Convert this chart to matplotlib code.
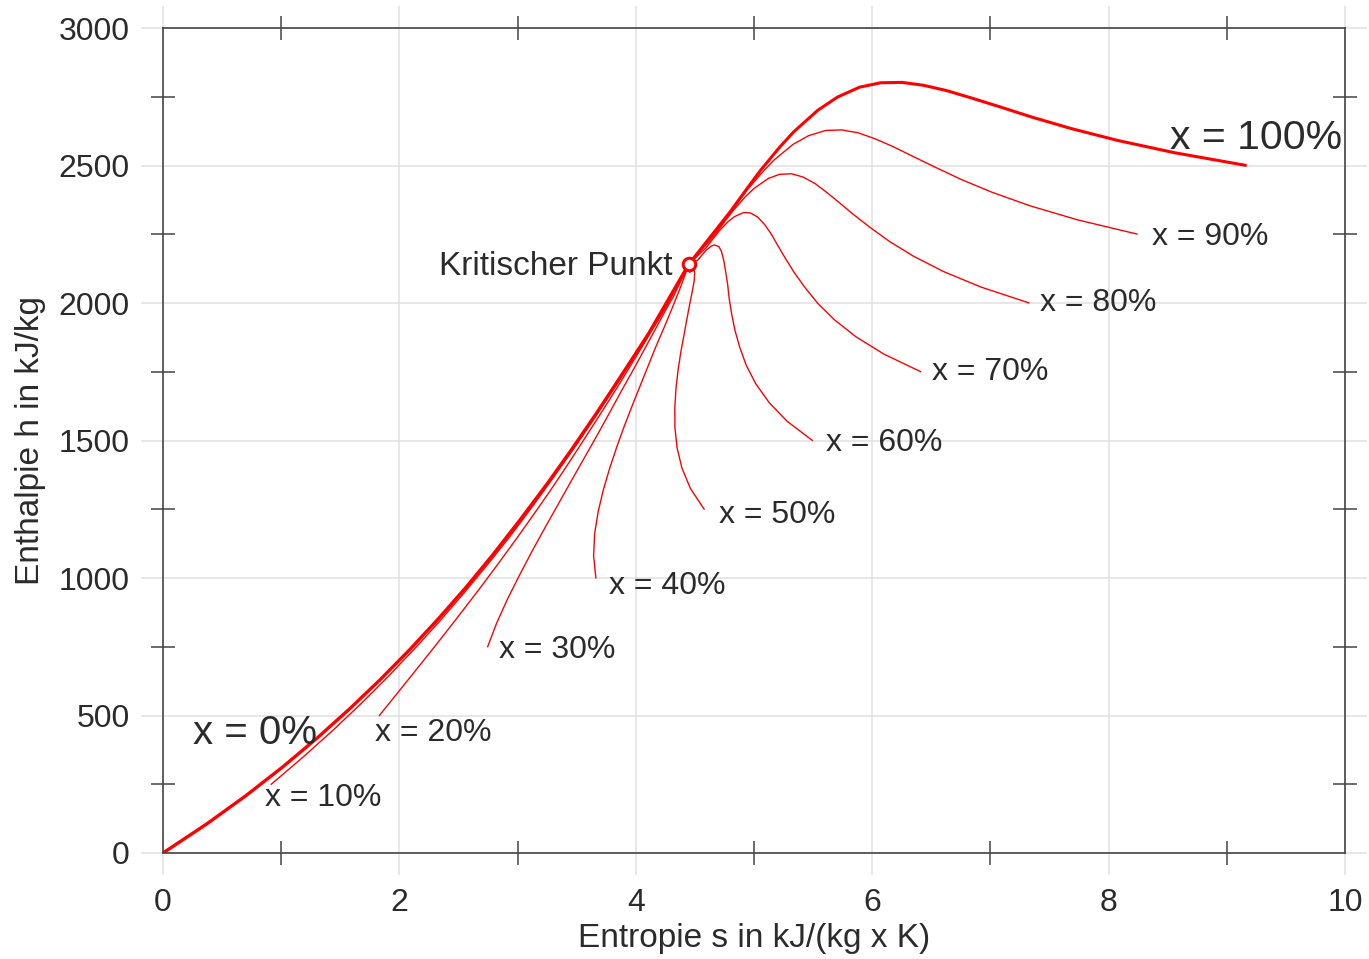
import matplotlib
matplotlib.use("Agg")
import matplotlib.pyplot as plt
from matplotlib.ticker import FixedLocator

plt.rcParams['font.family'] = ['Liberation Sans', 'DejaVu Sans']

# Linien konstanten Dampfgehalts im h,s-Diagramm (Wasser)
# Punkte laufen von 0 °C bis zum kritischen Punkt
s_x0 = [0.0, 0.367, 0.704, 1.016, 1.307, 1.581, 1.842, 2.091, 2.331, 2.565,
        2.793, 3.020, 3.254, 3.449, 3.660, 3.778, 3.916, 4.000, 4.111, 4.45]
h_x0 = [0.0, 104.8, 209.3, 314.0, 419.1, 525.0, 632.2, 741.0, 852.3, 966.8,
        1085.8, 1210.9, 1344.8, 1462.2, 1594.5, 1671.0, 1761.5, 1817.0, 1890.7, 2142]

s_x10 = [0.916, 1.186, 1.441, 1.683, 1.912, 2.131, 2.342, 2.544, 2.741, 2.934,
         3.121, 3.307, 3.499, 3.658, 3.828, 3.921, 4.030, 4.094, 4.180, 4.45]
h_x10 = [250.1, 349.0, 447.5, 546.1, 644.8, 743.9, 843.6, 944.2, 1046.3, 1150.3,
         1257.3, 1368.3, 1485.2, 1586.0, 1697.3, 1760.3, 1833.5, 1877.1, 1934.9, 2142]

s_x20 = [1.831, 2.005, 2.178, 2.349, 2.516, 2.681, 2.841, 2.998, 3.151, 3.302,
         3.449, 3.595, 3.744, 3.867, 3.995, 4.065, 4.143, 4.189, 4.249, 4.45]
h_x20 = [500.2, 593.1, 685.7, 778.1, 870.4, 962.7, 1054.9, 1147.4, 1240.2, 1333.9,
         1428.8, 1525.7, 1625.6, 1709.9, 1800.0, 1849.5, 1905.4, 1937.2, 1979.1, 2142]

s_x30 = [2.747, 2.824, 2.915, 3.016, 3.121, 3.230, 3.341, 3.451, 3.561, 3.671,
         3.777, 3.882, 3.990, 4.076, 4.163, 4.208, 4.257, 4.283, 4.318, 4.45]
h_x30 = [750.3, 837.3, 923.9, 1010.2, 1096.1, 1181.6, 1266.3, 1350.6, 1434.2, 1517.4,
         1600.3, 1683.1, 1766.0, 1833.7, 1902.8, 1938.8, 1977.4, 1997.3, 2023.2, 2142]

s_x40 = [3.662, 3.643, 3.652, 3.682, 3.726, 3.780, 3.840, 3.904, 3.971, 4.039,
         4.105, 4.169, 4.235, 4.285, 4.330, 4.351, 4.371, 4.378, 4.387, 4.45]
h_x40 = [1000.4, 1081.5, 1162.1, 1242.2, 1321.7, 1400.4, 1477.7, 1553.8, 1628.2, 1701.0,
         1771.8, 1840.5, 1906.4, 1957.6, 2005.5, 2028.0, 2049.3, 2057.4, 2067.4, 2142]

s_x50 = [4.578, 4.462, 4.390, 4.349, 4.331, 4.330, 4.340, 4.358, 4.381, 4.408,
         4.433, 4.457, 4.480, 4.494, 4.498, 4.495, 4.485, 4.472, 4.456, 4.45]
h_x50 = [1250.5, 1325.7, 1400.3, 1474.3, 1547.4, 1619.3, 1689.1, 1757.0, 1822.2, 1884.5,
         1943.4, 1997.9, 2046.8, 2081.4, 2108.3, 2117.3, 2121.3, 2117.5, 2111.6, 2142]

s_x60 = [5.493, 5.281, 5.127, 5.015, 4.935, 4.880, 4.839, 4.811, 4.790, 4.777,
         4.760, 4.744, 4.725, 4.703, 4.665, 4.638, 4.598, 4.566, 4.524, 4.45]
h_x60 = [1500.5, 1569.8, 1638.5, 1706.4, 1773.0, 1838.1, 1900.4, 1960.2, 2016.1, 2068.0,
         2114.9, 2155.2, 2187.1, 2205.2, 2211.0, 2206.6, 2193.2, 2177.6, 2155.8, 2142]

s_x70 = [6.409, 6.100, 5.864, 5.682, 5.540, 5.430, 5.339, 5.264, 5.200, 5.145,
         5.088, 5.031, 4.970, 4.912, 4.833, 4.781, 4.712, 4.661, 4.593, 4.45]
h_x70 = [1750.6, 1814.0, 1876.7, 1938.4, 1998.7, 2057.0, 2111.8, 2163.4, 2210.1, 2251.6,
         2286.4, 2312.6, 2327.5, 2329.1, 2313.8, 2295.8, 2265.2, 2237.7, 2200.0, 2142]

s_x80 = [7.324, 6.919, 6.601, 6.348, 6.145, 5.979, 5.838, 5.717, 5.610, 5.514,
         5.416, 5.318, 5.216, 5.121, 5.000, 4.924, 4.826, 4.755, 4.662, 4.45]
h_x80 = [2000.7, 2058.2, 2114.9, 2170.5, 2224.3, 2275.8, 2323.2, 2366.6, 2404.1, 2435.1,
         2457.9, 2470.0, 2467.9, 2452.9, 2416.5, 2385.1, 2337.1, 2297.8, 2244.1, 2142]

s_x90 = [8.240, 7.738, 7.338, 7.015, 6.749, 6.529, 6.338, 6.171, 6.020, 5.882,
         5.744, 5.606, 5.461, 5.330, 5.168, 5.068, 4.939, 4.850, 4.731, 4.45]
h_x90 = [2250.8, 2302.3, 2353.1, 2402.5, 2450.0, 2494.7, 2534.5, 2569.8, 2598.0, 2618.7,
         2629.4, 2627.4, 2608.3, 2576.8, 2519.3, 2474.3, 2409.1, 2357.9, 2288.3, 2142]

s_x100 = [9.155, 8.557, 8.075, 7.681, 7.354, 7.079, 6.837, 6.624, 6.430, 6.251,
          6.072, 5.893, 5.706, 5.539, 5.335, 5.211, 5.053, 4.944, 4.800, 4.45]
h_x100 = [2500.9, 2546.5, 2591.3, 2634.6, 2675.6, 2713.5, 2745.9, 2773.0, 2792.0, 2802.2,
          2800.9, 2784.8, 2748.7, 2700.6, 2622.0, 2563.6, 2481.0, 2418.0, 2332.5, 2142]

s_krit, h_krit = 4.45, 2142

labels = ["x = 10%", "x = 20%", "x = 30%", "x = 40%", "x = 50%",
          "x = 60%", "x = 70%", "x = 80%", "x = 90%"]
label_s = [0.86, 1.79, 2.84, 3.77, 4.70, 5.61, 6.51, 7.42, 8.37]
label_h = [200, 436, 738, 971, 1229, 1491, 1749, 2000, 2240]

xticks = [0, 2, 4, 6, 8, 10]
yticks = [0, 500, 1000, 1500, 2000, 2500, 3000]

fig = plt.figure(figsize=(13.69, 9.59), dpi=100)
ax = fig.add_axes([163/1369, 1 - 853/959, (1345 - 163)/1369, (853 - 28)/959])

rot = 'red'
duenn = [(s_x10, h_x10), (s_x20, h_x20), (s_x30, h_x30), (s_x40, h_x40),
         (s_x50, h_x50), (s_x60, h_x60), (s_x70, h_x70), (s_x80, h_x80),
         (s_x90, h_x90)]
for s, h in duenn:
    ax.plot(s, h, color=rot, lw=1.0)

ax.plot(s_x0, h_x0, color=rot, lw=2.4)
ax.plot(s_x100, h_x100, color=rot, lw=2.2)
ax.plot([s_krit], [h_krit], 'o', ms=9, mfc='white', mec=rot, mew=2.2, zorder=5)

txt = '#2b2b2b'
for lab, s, h in zip(labels, label_s, label_h):
    ax.text(s, h, lab, fontsize=23, color=txt, ha='left', va='center', zorder=6)
ax.text(0.25, 436, "x = 0%", fontsize=29, color=txt, ha='left', va='center', zorder=6)
ax.text(8.52, 2600, "x = 100%", fontsize=29.5, color=txt, ha='left', va='center', zorder=6)
ax.text(4.31, 2134, "Kritischer Punkt", fontsize=24, color=txt, ha='right', va='center', zorder=6)

ax.set_xlim(0, 10)
ax.set_ylim(0, 3000)
ax.set_xticks(xticks)
ax.set_yticks(yticks)
ax.xaxis.set_minor_locator(FixedLocator([1, 3, 5, 7, 9]))
ax.yaxis.set_minor_locator(FixedLocator([250, 750, 1250, 1750, 2250, 2750]))

ax.set_axisbelow(True)
ax.grid(True, which='major', color='#e0e0e0', lw=1.1)
ax.tick_params(which='major', direction='out', length=16, width=1.1, color='#e0e0e0',
               top=True, right=True, labelsize=23, labelcolor=txt)
ax.tick_params(axis='x', which='major', pad=9)
ax.tick_params(axis='y', which='major', pad=8)
ax.tick_params(which='minor', direction='inout', length=17, width=1.1, color='#444444',
               top=True, right=True)
for sp in ax.spines.values():
    sp.set_color('#444444')
    sp.set_linewidth(1.2)

ax.set_xlabel("Entropie s in kJ/(kg x K)", fontsize=24, color=txt, labelpad=4)
ax.set_ylabel("Enthalpie h in kJ/kg", fontsize=24, color=txt, labelpad=9)

fig.savefig("out.png", dpi=100)
